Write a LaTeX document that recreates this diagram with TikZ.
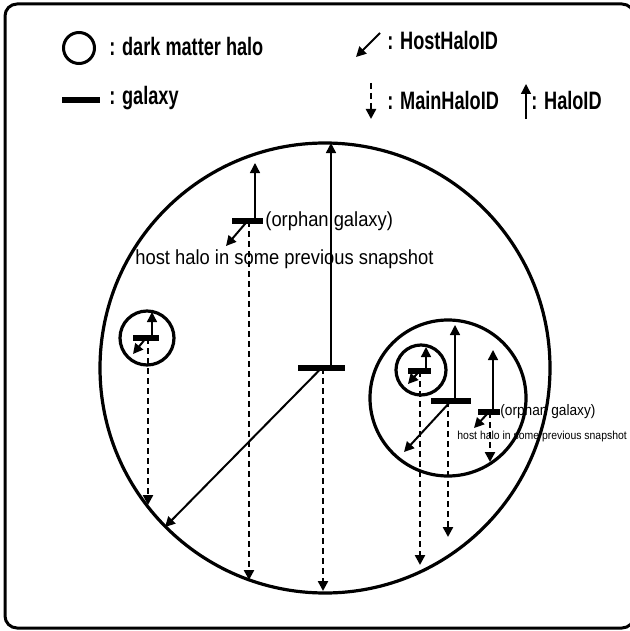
\documentclass[tikz,border=0pt]{standalone}
\usepackage{fontspec}
\usepackage{tikz}
\usetikzlibrary{arrows.meta}
\newfontfamily\legendfont[FakeStretch=0.72]{Liberation Sans}
\newfontfamily\labelfont[FakeStretch=0.9]{Liberation Sans}

\begin{document}
\begin{tikzpicture}[x=0.5pt, y=-0.5pt,
    halo/.style={line width=1.6pt},
    galaxy/.style={rectangle, fill=black, inner sep=0pt, minimum height=3.4pt},
    haloid/.style={line width=0.7pt, -{Triangle[length=5pt, width=5pt]}},
    hostid/.style={line width=1pt, -{Triangle[length=5pt, width=5pt]}},
    mainid/.style={line width=1.2pt, dash pattern=on 3pt off 2pt, -{Triangle[length=5pt, width=5pt]}},
    legtext/.style={font=\legendfont\bfseries\fontsize{12.6}{14}\selectfont, anchor=west, inner sep=0pt},
    orphtext/.style={font=\labelfont\fontsize{10.2}{12}\selectfont, anchor=west, inner sep=0pt}]
    \useasboundingbox (0,0) rectangle (630,631);
    % frame
    \draw[line width=1.5pt, rounded corners=6pt] (5,4) rectangle (634,628);

    % legend
    \node[draw, circle, line width=1.5pt, minimum size=15.5pt, inner sep=0pt] (legHalo) at (79,48) {};
    \node[legtext] (txtHalo) at (109,46) {: dark matter halo};
    \node[galaxy, minimum width=19pt, minimum height=2.6pt] (legGal) at (81,100) {};
    \node[legtext] (txtGal) at (109,98) {: galaxy};
    \coordinate (legHostA) at (380,33);
    \coordinate (legHostB) at (356,57);
    \draw[hostid] (legHostA) -- (legHostB);
    \node[legtext] (txtHost) at (387,40) {: HostHaloID};
    \coordinate (legMainA) at (371,83);
    \coordinate (legMainB) at (371,119);
    \draw[mainid] (legMainA) -- (legMainB);
    \node[legtext] (txtMain) at (387,100) {: MainHaloID};
    \coordinate (legIdA) at (526,119);
    \coordinate (legIdB) at (526,84);
    \draw[haloid] (legIdA) -- (legIdB);
    \node[legtext] (txtId) at (531,100) {: HaloID};

    % halos
    \draw[halo] (325,368) circle (225);
    \draw[halo] (147,338) circle (27);
    \draw[halo] (448,398) circle (78);
    \draw[halo] (421,370) circle (25);

    % galaxies
    \node[galaxy, minimum width=15.5pt, minimum height=3pt] (gOrph) at (247.5,221) {};
    \node[galaxy, minimum width=23.5pt] (gMain) at (321.5,368) {};
    \node[galaxy, minimum width=13pt] (gLeft) at (146,338) {};
    \node[galaxy, minimum width=11.5pt, minimum height=3pt] (gSub) at (419.5,371) {};
    \node[galaxy, minimum width=20pt] (gRight) at (451,401) {};
    \node[galaxy, minimum width=11pt, minimum height=3pt] (gOrphB) at (489,412) {};

    % arrow ends
    \coordinate (idOrph) at (255,163);
    \coordinate (hostOrph) at (226,246);
    \coordinate (mainOrph) at (249,580);
    \coordinate (idMain) at (331,143);
    \coordinate (hostMain) at (165,527);
    \coordinate (mainMain) at (323,591);
    \coordinate (idLeft) at (152,312);
    \coordinate (hostLeft) at (133,354);
    \coordinate (mainLeft) at (148,505);
    \coordinate (idSub) at (426,347);
    \coordinate (hostSub) at (408,384);
    \coordinate (mainSub) at (420,565);
    \coordinate (idRight) at (455,325);
    \coordinate (hostRight) at (404,452);
    \coordinate (mainRight) at (448,537);
    \coordinate (idOrphB) at (493,350);
    \coordinate (hostOrphB) at (474,428);
    \coordinate (mainOrphB) at (490,462);

    % HaloID
    \foreach \g in {Orph, Main, Left, Sub, Right, OrphB}
      \draw[haloid] (g\g.center -| id\g) -- (id\g);
    % HostHaloID
    \foreach \g in {Orph, Main, Left, Sub, Right, OrphB}
      \draw[hostid] (g\g.center) -- (host\g);
    % MainHaloID
    \foreach \g in {Orph, Main, Left, Sub, Right, OrphB}
      \draw[mainid] (g\g.center -| main\g) -- (main\g);

    % orphan labels
    \node[orphtext] (lblOrph) at (265,221) {(orphan galaxy)};
    \node[orphtext] (lblPrev) at (135,259) {host halo in some previous snapshot};
    \node[orphtext, font=\labelfont\fontsize{7.6}{9}\selectfont] (lblOrphB) at (500,412) {(orphan galaxy)};
    \node[orphtext, font=\labelfont\fontsize{5.8}{7}\selectfont] (lblPrevB) at (457,436) {host halo in some previous snapshot};
\end{tikzpicture}
\end{document}
